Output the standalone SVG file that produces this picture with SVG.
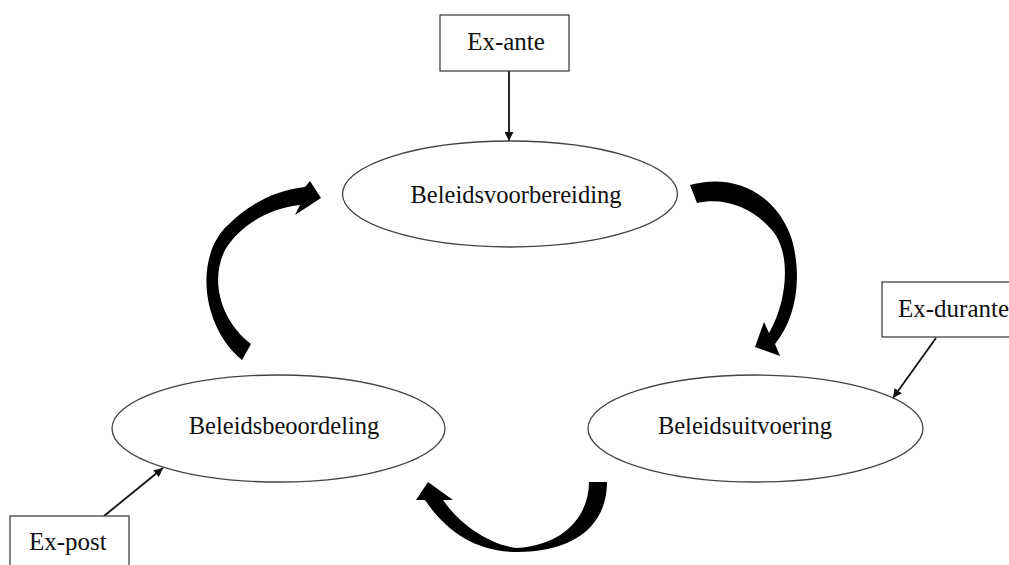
<svg xmlns="http://www.w3.org/2000/svg" width="1009" height="565" viewBox="0 0 1009 565">
  <style>
    .box { fill: #ffffff; stroke: #333333; stroke-width: 1.2; }
    .ell { fill: #ffffff; stroke: #444444; stroke-width: 1.3; }
    .lbl { font-family: "Liberation Serif", "Times New Roman", serif; font-size: 24.5px; fill: #111111; }
    .blbl { font-family: "Liberation Serif", "Times New Roman", serif; font-size: 25px; fill: #111111; }
    .conn { stroke: #111111; stroke-width: 1.8; fill: none; }
    .cyc { fill: #000000; stroke: none; }
  </style>
  <defs>
    <marker id="ah" viewBox="0 0 10 10" refX="10" refY="5" markerWidth="9" markerHeight="9" markerUnits="userSpaceOnUse" orient="auto">
      <path d="M0,0 L10,5 L0,10 Z" fill="#111111"/>
    </marker>
  </defs>
  <rect width="1009" height="565" fill="#ffffff"/>

  <g id="cycle-arrows">
    <path id="arrow-left" class="cyc" d="M 242 360 C 200 325 195 255 228 225 C 248 205 275 190 305 187 L 310 181 L 321 198 L 295 215 L 300 205 C 270 208 240 225 225 250 C 210 280 220 320 251 344 Z"/>
    <path id="arrow-right" class="cyc" d="M 690 185 C 735 172 778 195 792 240 C 803 280 795 320 775 344 L 780 356 L 755 347 L 764 322 L 769 333 C 788 300 792 250 770 228 C 752 208 725 197 697 203 Z"/>
    <path id="arrow-bottom" class="cyc" d="M 589 482 L 607 482 C 607 525 575 552 517 552 C 475 552 445 530 425 500 L 416 500 L 428 482 L 453 500 L 443 500 C 460 525 490 545 517 548 C 565 545 589 515 589 482 Z"/>
  </g>

  <g id="connectors">
    <line class="conn" x1="509" y1="71" x2="509" y2="141" marker-end="url(#ah)"/>
    <line class="conn" x1="936" y1="338" x2="893" y2="398" marker-end="url(#ah)"/>
    <line class="conn" x1="104" y1="516" x2="163" y2="468" marker-end="url(#ah)"/>
  </g>

  <g id="node-voorbereiding">
    <ellipse class="ell" cx="510" cy="194" rx="167.5" ry="53"/>
    <text class="lbl" x="516" y="203" text-anchor="middle">Beleidsvoorbereiding</text>
  </g>
  <g id="node-beoordeling">
    <ellipse class="ell" cx="278.5" cy="428.5" rx="166.5" ry="53.5"/>
    <text class="lbl" x="284" y="434" text-anchor="middle">Beleidsbeoordeling</text>
  </g>
  <g id="node-uitvoering">
    <ellipse class="ell" cx="755.5" cy="428.5" rx="167.5" ry="53.5"/>
    <text class="lbl" x="745" y="434" text-anchor="middle">Beleidsuitvoering</text>
  </g>

  <g id="node-ex-ante">
    <rect class="box" x="440" y="15" width="129" height="56"/>
    <text class="blbl" x="506" y="50" text-anchor="middle">Ex-ante</text>
  </g>
  <g id="node-ex-durante">
    <rect class="box" x="882" y="282" width="140" height="55"/>
    <text class="blbl" x="898" y="317">Ex-durante</text>
  </g>
  <g id="node-ex-post">
    <rect class="box" x="10" y="516" width="119" height="60"/>
    <text class="blbl" x="29" y="550">Ex-post</text>
  </g>
</svg>
